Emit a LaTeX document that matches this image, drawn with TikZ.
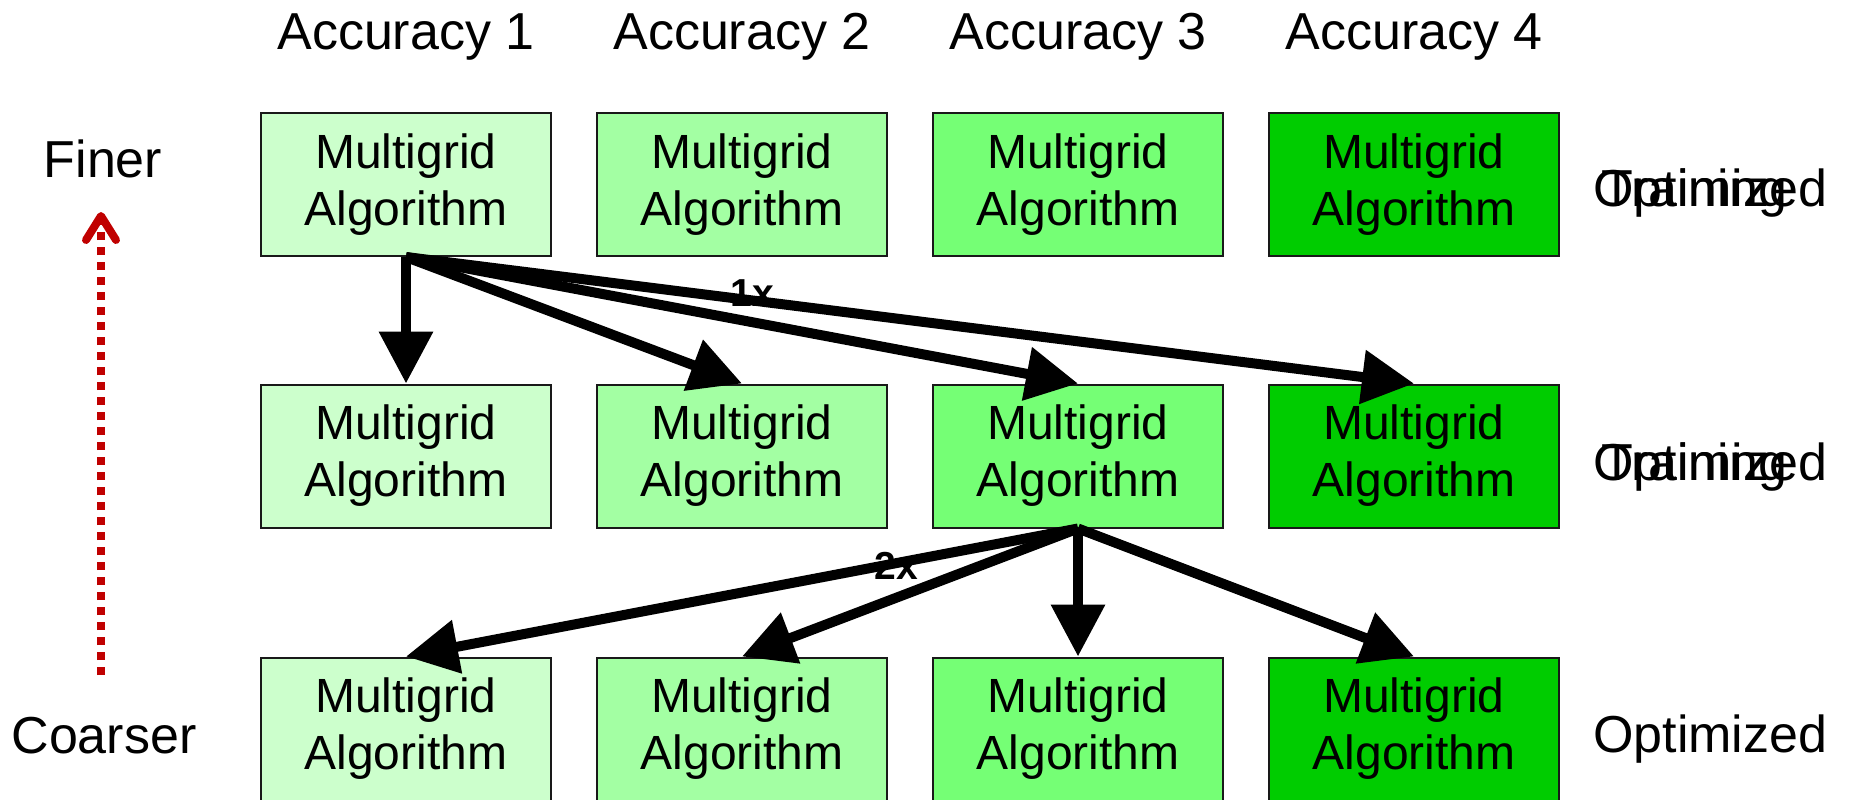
\documentclass[tikz,border=0pt]{standalone}
\usepackage{fontspec}
\setmainfont{Liberation Sans}
\usetikzlibrary{arrows.meta}
\definecolor{accA}{HTML}{CCFFCC}
\definecolor{accB}{HTML}{A3FFA3}
\definecolor{accC}{HTML}{75FF75}
\definecolor{accD}{HTML}{00CC00}
\definecolor{upred}{HTML}{C00000}
\begin{document}
\begin{tikzpicture}[x=1pt,y=-1pt,
  algbox/.style={draw=black!90, line width=2pt, minimum width=290pt, minimum height=143pt,
    inner sep=0pt, align=center, font=\fontsize{48pt}{57pt}\selectfont},
  lbl/.style={font=\fontsize{52pt}{60pt}\selectfont, inner sep=0pt},
  cnt/.style={font=\fontsize{39pt}{45pt}\selectfont\bfseries, inner sep=0pt},
  flow/.style={line width=10pt, -{Triangle[length=52pt,width=52pt]}},
  trend/.style={upred, line width=8pt, dash pattern=on 8pt off 7pt,
    -{Straight Barb[length=24pt,width=30pt,line cap=round,line join=round]}}
]
\useasboundingbox (0,0) rectangle (1850,800);

% grid of algorithm boxes: columns = accuracy, rows = grid level
\foreach \c/\x/\col in {1/406/accA, 2/742/accB, 3/1078/accC, 4/1414/accD} {
  \node[lbl, anchor=base] (h\c) at (\x,50) {Accuracy \c};
  \node[algbox, fill=\col] (b1\c) at (\x,184.5) {Multigrid\\Algorithm};
  \node[algbox, fill=\col] (b2\c) at (\x,456) {Multigrid\\Algorithm};
  \node[algbox, fill=\col] (b3\c) at (\x,729) {Multigrid\\Algorithm};
}

% level labels on the left
\node[lbl, anchor=base] (finer) at (103,177) {Finer};
\node[lbl, anchor=base] (coarser) at (104,753) {Coarser};

% status labels on the right (first two rows overprinted)
\node[lbl, anchor=base west] (opt1) at (1593,206) {Optimized};
\node[lbl, anchor=base west] (trn1) at (1601,206) {Training};
\node[lbl, anchor=base west] (opt2) at (1593,480) {Optimized};
\node[lbl, anchor=base west] (trn2) at (1601,480) {Training};
\node[lbl, anchor=base west] (opt3) at (1593,752) {Optimized};

% upward trend arrow
\coordinate (trendlo) at (101,675);
\coordinate (trendhi) at (101,212);
\draw[trend] (trendlo) -- (trendhi);

% repetition counts
\node[cnt] (once) at (752,293) {1x};
\node[cnt] (twice) at (896,566) {2x};

% fan-out connectors
\foreach \c in {1,...,4} \draw[flow] (b11.south) -- (b2\c.north);
\foreach \c in {1,...,4} \draw[flow] (b23.south) -- (b3\c.north);
\end{tikzpicture}
\end{document}
